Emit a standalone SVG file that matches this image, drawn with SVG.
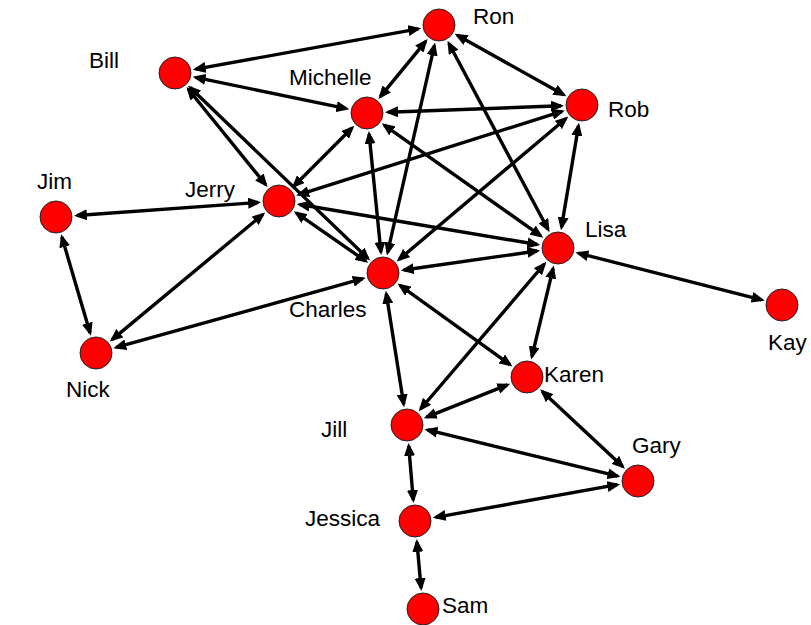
<svg xmlns="http://www.w3.org/2000/svg" width="811" height="625" viewBox="0 0 811 625">
<style>
.e{stroke:#000;stroke-width:3.4;fill:none;marker-start:url(#ah);marker-end:url(#ah)}
.n{fill:#ff0000;stroke:#222;stroke-width:1}
.t{font-family:"Liberation Sans",Arial,sans-serif;font-size:22.5px;fill:#000}
</style>
<defs>
<marker id="ah" viewBox="0 0 13 11" refX="10" refY="5.5" markerWidth="13" markerHeight="11" markerUnits="userSpaceOnUse" orient="auto-start-reverse">
<path d="M0,0 L13,5.5 L0,11 z" fill="#000"/>
</marker>
</defs>
<rect width="811" height="625" fill="#fff"/>
<g id="connectors">
<line class="e" x1="195.7" y1="69.2" x2="418.3" y2="28.8"/>
<line class="e" x1="195.6" y1="77.3" x2="346.4" y2="108.7"/>
<line class="e" x1="188.3" y1="89.3" x2="265.7" y2="184.7"/>
<line class="e" x1="190.1" y1="87.6" x2="367.9" y2="258.4"/>
<line class="e" x1="425.7" y1="41.3" x2="380.3" y2="96.7"/>
<line class="e" x1="457.3" y1="35.2" x2="563.7" y2="94.8"/>
<line class="e" x1="434.4" y1="45.5" x2="387.6" y2="252.5"/>
<line class="e" x1="448.9" y1="43.5" x2="548.1" y2="229.5"/>
<line class="e" x1="388" y1="112.2" x2="561" y2="105.8"/>
<line class="e" x1="352.2" y1="127.8" x2="293.8" y2="186.2"/>
<line class="e" x1="369.1" y1="133.9" x2="380.9" y2="252.1"/>
<line class="e" x1="384.2" y1="125.1" x2="540.8" y2="235.9"/>
<line class="e" x1="562" y1="111.3" x2="299" y2="194.7"/>
<line class="e" x1="578.5" y1="125.7" x2="561.5" y2="227.3"/>
<line class="e" x1="566" y1="118.5" x2="399" y2="259.5"/>
<line class="e" x1="76.9" y1="215.5" x2="258.1" y2="202.5"/>
<line class="e" x1="61.9" y1="237.1" x2="90.1" y2="332.9"/>
<line class="e" x1="299.7" y1="204.5" x2="537.3" y2="244.5"/>
<line class="e" x1="296.3" y1="212.9" x2="365.7" y2="261.1"/>
<line class="e" x1="262.9" y1="214.4" x2="112.1" y2="339.6"/>
<line class="e" x1="116.2" y1="347.4" x2="362.8" y2="278.6"/>
<line class="e" x1="403.8" y1="270" x2="537.2" y2="251"/>
<line class="e" x1="400" y1="285.3" x2="510" y2="364.7"/>
<line class="e" x1="386.3" y1="293.7" x2="403.7" y2="404.3"/>
<line class="e" x1="578.3" y1="253.2" x2="761.7" y2="299.8"/>
<line class="e" x1="553.1" y1="268.4" x2="531.9" y2="356.6"/>
<line class="e" x1="544.4" y1="264" x2="420.6" y2="409"/>
<line class="e" x1="507.5" y1="384.8" x2="426.5" y2="417.2"/>
<line class="e" x1="542.3" y1="391.4" x2="622.7" y2="466.6"/>
<line class="e" x1="427.4" y1="429.9" x2="617.6" y2="476.1"/>
<line class="e" x1="408.7" y1="445.9" x2="413.3" y2="500.1"/>
<line class="e" x1="435.7" y1="517.3" x2="617.3" y2="484.7"/>
<line class="e" x1="416.9" y1="541.9" x2="421.1" y2="588.1"/>
</g>
<g id="Ron"><circle class="n" cx="439" cy="25" r="16"/><text class="t" x="473" y="24">Ron</text></g>
<g id="Bill"><circle class="n" cx="175" cy="73" r="16"/><text class="t" x="89" y="68">Bill</text></g>
<g id="Michelle"><circle class="n" cx="367" cy="113" r="16"/><text class="t" x="289" y="85">Michelle</text></g>
<g id="Rob"><circle class="n" cx="582" cy="105" r="16"/><text class="t" x="608" y="117">Rob</text></g>
<g id="Jim"><circle class="n" cx="56" cy="217" r="16"/><text class="t" x="37" y="189">Jim</text></g>
<g id="Jerry"><circle class="n" cx="279" cy="201" r="16"/><text class="t" x="185" y="197">Jerry</text></g>
<g id="Lisa"><circle class="n" cx="558" cy="248" r="16"/><text class="t" x="585" y="237">Lisa</text></g>
<g id="Charles"><circle class="n" cx="383" cy="273" r="16"/><text class="t" x="289" y="317">Charles</text></g>
<g id="Kay"><circle class="n" cx="782" cy="305" r="16"/><text class="t" x="768" y="350">Kay</text></g>
<g id="Nick"><circle class="n" cx="96" cy="353" r="16"/><text class="t" x="66" y="397">Nick</text></g>
<g id="Karen"><circle class="n" cx="527" cy="377" r="16"/><text class="t" x="544" y="382">Karen</text></g>
<g id="Jill"><circle class="n" cx="407" cy="425" r="16"/><text class="t" x="321" y="437">Jill</text></g>
<g id="Gary"><circle class="n" cx="638" cy="481" r="16"/><text class="t" x="632" y="453">Gary</text></g>
<g id="Jessica"><circle class="n" cx="415" cy="521" r="16"/><text class="t" x="305" y="526">Jessica</text></g>
<g id="Sam"><circle class="n" cx="423" cy="609" r="16"/><text class="t" x="442" y="613">Sam</text></g>
</svg>
